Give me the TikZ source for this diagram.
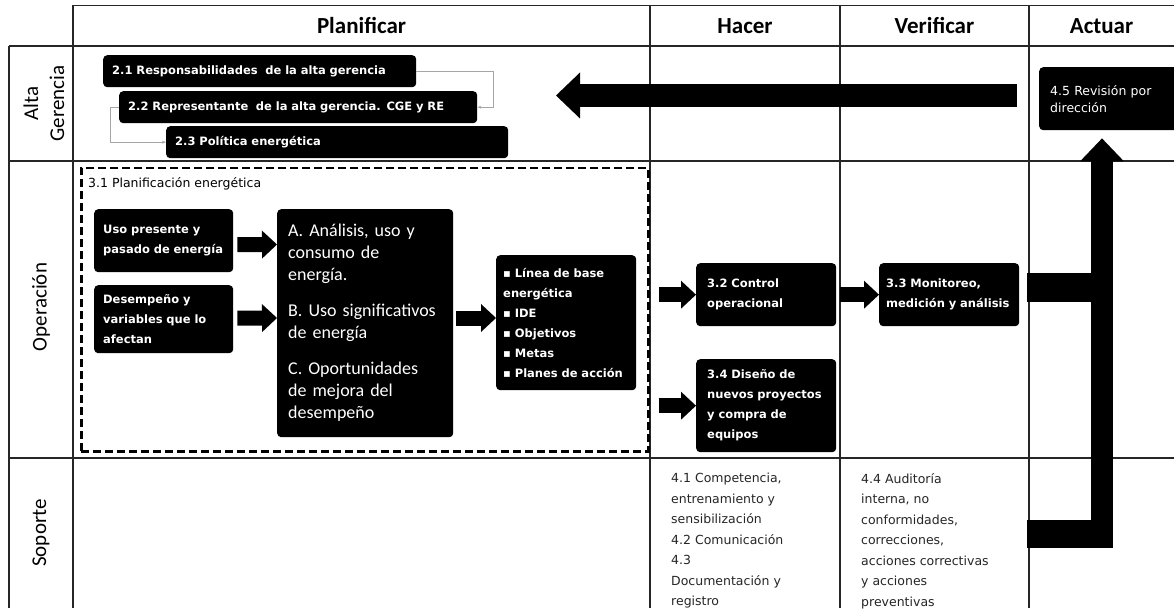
\documentclass[tikz,border=0pt]{standalone}
\usepackage{fontspec}
\setmainfont{Carlito}
\newfontfamily\dejavu{DejaVu Sans}
\usetikzlibrary{arrows.meta,positioning}

\begin{document}
\begin{tikzpicture}[x=1pt, y=-1pt,
  grid/.style={draw=black!85, line width=1.3pt},
  head/.style={font=\fontsize{23}{26}\selectfont\bfseries},
  lane/.style={rotate=90, align=center, font=\fontsize{21}{26}\selectfont},
  blk/.style={rectangle, fill=black, text=white, rounded corners=4pt, anchor=north west,
    align=left, inner xsep=9pt, inner ysep=0pt, font=\dejavu\bfseries\fontsize{11.5}{20}\selectfont},
  big/.style={blk, inner xsep=11pt, font=\fontsize{18}{22}\selectfont},
  note/.style={anchor=north west, align=left, inner sep=0pt, text=black!85,
    font=\dejavu\fontsize{12.5}{20.5}\selectfont},
  plan/.style={draw, dashed, dash pattern=on 8pt off 4pt, line width=2.5pt, anchor=north west, inner sep=0pt},
  fat/.style={line width=15pt, -{Triangle[length=15pt, width=28pt, line width=0pt]}},
  huge/.style={line width=23pt, -{Triangle[length=24pt, width=46pt, line width=0pt]}},
  link/.style={draw=gray!70, line width=0.8pt, -{Stealth[length=4pt]}},
]
\fill[white] (0,0) rectangle (1174,609);
\useasboundingbox (0,0) rectangle (1174,609);

% --- table grid ---
\draw[grid] (73,5.5) -- (1174,5.5);
\foreach \y in {46,161,458}
  \draw[grid] (9,\y) -- (1174,\y);
\draw[grid] (9,46) -- (9,608);
\foreach \x in {73,650,840,1029}
  \draw[grid] (\x,5.5) -- (\x,608);

% column and lane titles
\node[head] (hplan) at (361.5,26) {Planificar};
\node[head] (hhac) at (745,26) {Hacer};
\node[head] (hver) at (934.5,26) {Verificar};
\node[head] (hact) at (1101.5,26) {Actuar};
\node[lane] (lalta) at (44,103.5) {Alta\\Gerencia};
\node[lane] (lope) at (41,307) {Operación};
\node[lane] (lsop) at (41,533) {Soporte};

% --- alta gerencia ---
\node[blk, text width=295pt, minimum height=32pt] (g21) at (103,55) {2.1 Responsabilidades\ \ de la alta gerencia};
\node[blk, text width=340pt, minimum height=32pt] (g22) at (119,91) {2.2 Representante\ \ de la alta gerencia. CGE y RE};
\node[blk, text width=324pt, minimum height=32pt] (g23) at (166,126) {2.3 Política energética};
\draw[link] (g21.east) -- ++(77,0) |- (g22.east);
\draw[link] (g22.west) -- ++(-9,0) |- (g23.west);

\node[blk, inner xsep=11pt, text width=118pt, minimum height=63pt,
  font=\dejavu\fontsize{12.5}{17}\selectfont] (rev) at (1039,67) {4.5 Revisión por\\dirección};

% --- planificacion energetica ---
\node[plan, minimum width=567pt, minimum height=283pt] (plan) at (80,167) {};
\node[note, text=black, font=\dejavu\fontsize{12.5}{15}\selectfont] (ptit) at (88,177) {3.1 Planificación energética};

\node[blk, text width=121pt, minimum height=63pt] (uso) at (94,209) {Uso presente y\\pasado de energía};
\node[blk, text width=121pt, minimum height=68pt] (des) at (94,285) {Desempeño y\\variables que lo\\afectan};
\node[big, text width=154pt, minimum height=228pt] (abc) at (277,209)
  {A. Análisis, uso y\\consumo de\\energía.\\[14pt]B. Uso significativos\\de energía\\[14pt]C. Oportunidades\\de mejora del\\desempeño};
\node[blk, inner xsep=7pt, text width=126pt, minimum height=135pt] (lst) at (496,255)
  {▪ Línea de base\\energética\\▪ IDE\\▪ Objetivos\\▪ Metas\\▪ Planes de acción};

\draw[fat] (uso.east) ++(4,4) -- (abc.west |- 0,244.5);
\draw[fat] (des.east) ++(4,-1) -- (abc.west |- 0,318);
\draw[fat] (abc.east |- 0,318) ++(3,0) -- (lst.west |- 0,318);

% --- hacer / verificar ---
\node[blk, inner xsep=11pt, text width=118pt, minimum height=63pt] (c32) at (696,263) {3.2 Control\\operacional};
\node[blk, inner xsep=7pt, text width=126pt, minimum height=63pt] (c33) at (879,263) {3.3 Monitoreo,\\medición y análisis};
\node[blk, inner xsep=11pt, text width=118pt, minimum height=93pt] (c34) at (696,359) {3.4 Diseño de\\nuevos proyectos\\y compra de\\equipos};

\draw[fat, shorten <=9pt] (plan.east |- c32) -- (c32.west);
\draw[fat, shorten <=4pt] (c32.east) -- (c33.west);
\draw[fat, shorten <=9pt] (plan.east |- c34) -- (c34.west);

% --- soporte ---
\node[note] (s41) at (671,473) {4.1 Competencia,\\entrenamiento y\\sensibilización\\4.2 Comunicación\\4.3\\Documentación y\\registro};
\node[note] (s44) at (861,473) {4.4 Auditoría\\interna, no\\conformidades,\\correcciones,\\acciones correctivas\\y acciones\\preventivas};

% --- actuar: feedback arrows ---
\coordinate (actin) at (1017,95.5);
\coordinate (actout) at (556,95.5);
\draw[huge] (actin) -- (actout);

\coordinate (opsbar) at (1027,287.5);
\coordinate (sopbar) at (1027,534);
\coordinate (foot) at (1102,534);
\draw[line width=29pt] (opsbar) -- (foot |- opsbar);
\draw[line width=28pt] (sopbar) -- (1113,534);
\draw[line width=22pt, -{Triangle[length=23pt, width=44pt, line width=0pt]}, shorten >=8pt] (foot) -- (foot |- rev.south);
\end{tikzpicture}
\end{document}
